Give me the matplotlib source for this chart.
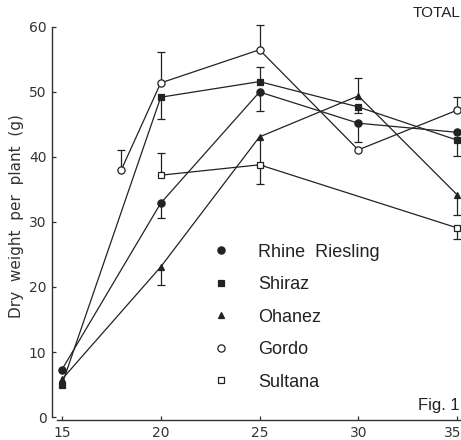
import numpy as np
import matplotlib
matplotlib.use("Agg")
import matplotlib.pyplot as plt
from matplotlib.transforms import ScaledTranslation

# temperatura (x) y peso seco por planta (y)
x_rr = [15, 20, 25, 30, 35]
y_rr = [7.3, 32.9, 50.0, 45.2, 43.8]
lo_rr = [0, 2.3, 2.9, 2.9, 0]
up_rr = [0, 0, 0, 0, 0]

x_sh = [15, 20, 25, 30, 35]
y_sh = [5.0, 49.2, 51.6, 47.7, 42.6]
lo_sh = [0, 3.4, 0, 0.9, 2.4]
up_sh = [0, 0, 2.3, 0, 0]

x_oh = [15, 20, 25, 30, 35]
y_oh = [5.8, 23.1, 43.1, 49.4, 34.2]
lo_oh = [0, 2.8, 4.3, 0, 3.1]
up_oh = [0, 0, 0, 2.7, 0]

x_go = [18, 20, 25, 30, 35]
y_go = [38.0, 51.4, 56.5, 41.1, 47.2]
lo_go = [0, 0, 0, 0, 0]
up_go = [3.1, 4.8, 3.8, 0, 2.0]

x_su = [20, 25, 35]
y_su = [37.2, 38.8, 29.1]
lo_su = [0, 3.0, 1.7]
up_su = [3.4, 0, 0]

xticks = [15, 20, 25, 30, 35]
yticks = [0, 10, 20, 30, 40, 50, 60]

col = "#222222"

fig = plt.figure(figsize=(4.61, 4.40), dpi=100)
ax = fig.add_axes([52.1 / 461, (440 - 420.25) / 440, (461 - 52.1) / 461, 399.75 / 440])

series = [
    ("Rhine  Riesling", x_rr, y_rr, lo_rr, up_rr, "o", col, 5.2),
    ("Shiraz", x_sh, y_sh, lo_sh, up_sh, "s", col, 4.3),
    ("Ohanez", x_oh, y_oh, lo_oh, up_oh, "^", col, 4.6),
    ("Gordo", x_go, y_go, lo_go, up_go, "o", "white", 5.2),
    ("Sultana", x_su, y_su, lo_su, up_su, "s", "white", 4.3),
]

handles = []
for name, xs, ys, lo, up, m, fc, ms in series:
    xs = np.array(xs)
    ys = np.array(ys)
    lo = np.array(lo)
    up = np.array(up)
    # barras de error de un solo lado, con tope solo en el extremo
    sel = (lo + up) > 0
    ax.vlines(xs[sel], (ys - lo)[sel], (ys + up)[sel], color=col, lw=0.9, zorder=2)
    ax.plot(xs[lo > 0], (ys - lo)[lo > 0], "_", ms=6, mew=0.9, color=col, zorder=2)
    ax.plot(xs[up > 0], (ys + up)[up > 0], "_", ms=6, mew=0.9, color=col, zorder=2)
    ax.plot(xs, ys, "-", color=col, lw=0.9, zorder=3)
    ax.plot(xs, ys, m, ms=ms, mfc=fc, mec=col, mew=0.9, ls="none", zorder=4)
    h, = ax.plot([], [], m, ms=ms, mfc=fc, mec=col, mew=0.9, ls="none")
    handles.append((h, name))

ax.set_xlim(14.5, 35.2)
ax.set_ylim(-0.5, 61)
ax.spines["top"].set_visible(False)
ax.spines["right"].set_visible(False)
ax.spines["left"].set_bounds(0, 60)
ax.spines["bottom"].set_bounds(14.75, 35.2)
for s in ["left", "bottom"]:
    ax.spines[s].set_linewidth(1.0)
    ax.spines[s].set_color("#333333")

ax.set_xticks(xticks)
ax.set_yticks(yticks)
ax.tick_params(direction="in", length=3, width=0.9, colors="#333333",
               labelsize=10, labelcolor="#333333")
ax.tick_params(axis="y", pad=4)
ax.tick_params(axis="x", pad=4)

# el 35 queda pegado al borde, se corre un poco a la izquierda
last = ax.get_xticklabels()[-1]
last.set_transform(last.get_transform() + ScaledTranslation(-4 / 100, 0, fig.dpi_scale_trans))

fig.text(17 / 461, 1 - 216 / 440, "Dry  weight  per  plant  (g)", rotation=90,
         ha="center", va="center", fontsize=11, color="#333333")

fig.text(460 / 461, 1 - 13 / 440, "TOTAL", ha="right", va="center",
         fontsize=11, family="Liberation Sans", color="#222222")
fig.text(460 / 461, 1 - 405 / 440, "Fig. 1", ha="right", va="center",
         fontsize=12, family="Liberation Sans", color="#222222")

leg = ax.legend([h for h, n in handles], [n for h, n in handles],
                loc="upper left", bbox_to_anchor=(212 / 461, 1 - 243.5 / 440),
                bbox_transform=fig.transFigure, frameon=False, borderpad=0,
                borderaxespad=0, handlelength=1.0, handletextpad=1.55,
                labelspacing=0.86, prop={"family": "Liberation Sans", "size": 13})
for t in leg.get_texts():
    t.set_color("#222222")

fig.savefig("out.png", dpi=100)
